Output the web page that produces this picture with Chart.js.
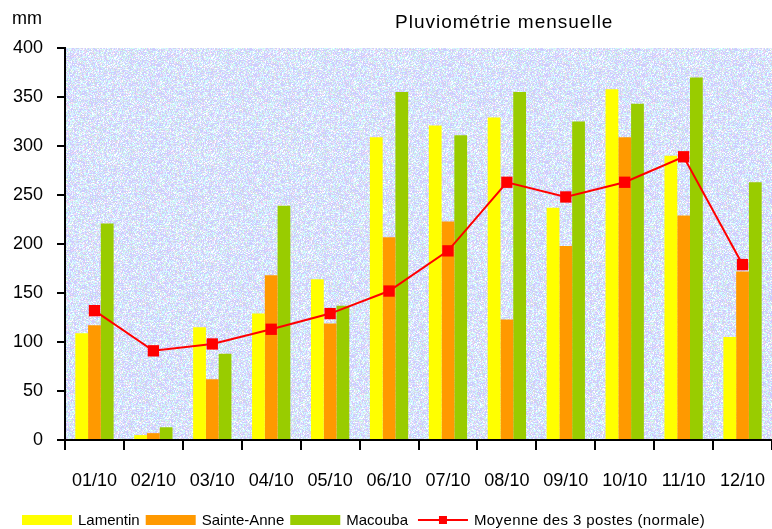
<!DOCTYPE html>
<html>
<head>
<meta charset="utf-8">
<script src="https://cdn.jsdelivr.net/npm/chart.js@4/dist/chart.umd.min.js"></script>
<style>
  html, body { margin: 0; padding: 0; background: #ffffff; }
  #wrap { width: 772px; height: 529px; position: relative; }
</style>
</head>
<body>
<div id="wrap"><canvas id="c" width="772" height="529"></canvas></div>
<script>
// ---- Data ----
const categories = ['01/10','02/10','03/10','04/10','05/10','06/10','07/10','08/10','09/10','10/10','11/10','12/10'];
const lamentin   = [109, 5, 115, 129, 164, 309, 321, 329, 237, 358, 290, 105];
const sainteAnne = [117, 7,  62, 168, 119, 207, 223, 123, 198, 309, 229, 172];
const macouba    = [221, 13, 88, 239, 137, 355, 311, 355, 325, 343, 370, 263];
const moyenne    = [132, 91, 98, 113, 129, 152, 193, 263, 248, 263, 289, 179];
const yTicks     = [0, 50, 100, 150, 200, 250, 300, 350, 400];
const seriesNames = ['Lamentin', 'Sainte-Anne', 'Macouba', 'Moyenne des 3 postes (normale)'];
const titleText = 'Pluviométrie mensuelle';
const unitText = 'mm';

const COLORS = { yellow: '#ffff00', orange: '#ff9900', green: '#99cc00', red: '#ff0000' };
const FONT = '"Liberation Sans", Arial, sans-serif';

// textured background tile (deterministic hash noise)
function makePattern(ctx) {
  const N = 97;
  const t = document.createElement('canvas');
  t.width = N; t.height = N;
  const tc = t.getContext('2d');
  const img = tc.createImageData(N, N);
  const pal = [
    [204,204,255],[204,204,255],[204,204,255],[204,204,255],[214,214,252],
    [204,255,255],[204,255,255],[220,240,255],[255,255,255],[240,248,255],
    [245,215,245],[215,215,225],[210,245,225],[225,225,255]
  ];
  for (let y = 0; y < N; y++) {
    for (let x = 0; x < N; x++) {
      let h = (x * 374761393 + y * 668265263) >>> 0;
      h = ((h ^ (h >>> 13)) * 1274126177) >>> 0;
      h = (h ^ (h >>> 16)) >>> 0;
      const c = pal[h % pal.length];
      const i = (y * N + x) * 4;
      img.data[i] = c[0]; img.data[i+1] = c[1]; img.data[i+2] = c[2]; img.data[i+3] = 255;
    }
  }
  tc.putImageData(img, 0, 0);
  return ctx.createPattern(t, 'repeat');
}

const decorPlugin = {
  id: 'decor',
  beforeDraw(chart) {
    const { ctx, chartArea: a } = chart;
    ctx.save();
    ctx.fillStyle = '#ffffff';
    ctx.fillRect(0, 0, chart.width, chart.height);
    ctx.fillStyle = makePattern(ctx);
    ctx.fillRect(a.left, a.top, a.right - a.left, a.bottom - a.top);
    ctx.restore();
  },
  afterDraw(chart) {
    const { ctx } = chart;
    ctx.save();
    ctx.fillStyle = '#000000';
    ctx.textBaseline = 'middle';
    // title
    ctx.font = '19px ' + FONT;
    ctx.letterSpacing = '1px';
    ctx.textAlign = 'left';
    ctx.fillText(titleText, 395, 23);
    // unit
    ctx.letterSpacing = '0px';
    ctx.font = '18px ' + FONT;
    ctx.fillText(unitText, 12, 19);
    // legend
    ctx.font = '15px ' + FONT;
    const ly = 520;
    let x = 22;
    const fills = [COLORS.yellow, COLORS.orange, COLORS.green];
    for (let i = 0; i < 4; i++) {
      if (i < 3) {
        ctx.fillStyle = fills[i];
        ctx.fillRect(x, ly - 5, 50, 10);
      } else {
        x += 4;
        ctx.strokeStyle = COLORS.red;
        ctx.lineWidth = 2;
        ctx.beginPath();
        ctx.moveTo(x, ly); ctx.lineTo(x + 50, ly); ctx.stroke();
        ctx.fillStyle = COLORS.red;
        ctx.fillRect(x + 21, ly - 4, 8, 8);
        ctx.letterSpacing = '0.4px';
      }
      x += 56;
      ctx.fillStyle = '#000000';
      ctx.fillText(seriesNames[i], x, ly + 1);
      x += ctx.measureText(seriesNames[i]).width + 6;
    }
    ctx.restore();
  }
};

const ctx = document.getElementById('c').getContext('2d');
new Chart(ctx, {
  data: {
    labels: categories,
    datasets: [
      { type: 'line', label: seriesNames[3], data: moyenne, order: 0,
        borderColor: COLORS.red, backgroundColor: COLORS.red, borderWidth: 2,
        pointStyle: 'rect', pointRadius: 8, pointHoverRadius: 8, pointBorderWidth: 0,
        tension: 0, fill: false, clip: false },
      { type: 'bar', label: seriesNames[0], data: lamentin, order: 1, backgroundColor: COLORS.yellow,
        categoryPercentage: 0.65, barPercentage: 1.0 },
      { type: 'bar', label: seriesNames[1], data: sainteAnne, order: 1, backgroundColor: COLORS.orange,
        categoryPercentage: 0.65, barPercentage: 1.0 },
      { type: 'bar', label: seriesNames[2], data: macouba, order: 1, backgroundColor: COLORS.green,
        categoryPercentage: 0.65, barPercentage: 1.0 }
    ]
  },
  options: {
    responsive: false,
    animation: false,
    events: [],
    layout: { autoPadding: false, padding: { top: 48, right: 0, bottom: 0, left: 0 } },
    plugins: { legend: { display: false }, title: { display: false }, tooltip: { enabled: false } },
    scales: {
      x: {
        type: 'category',
        offset: true,
        grid: { display: true, drawOnChartArea: false, offset: true, tickLength: 10, color: '#000000', lineWidth: 2 },
        border: { display: true, color: '#000000', width: 2 },
        ticks: { color: '#000000', font: { family: FONT, size: 18 }, padding: 20, maxRotation: 0, autoSkip: false },
        afterFit(scale) { scale.height = 89; scale.paddingLeft = 0; scale.paddingRight = 0; }
      },
      y: {
        min: 0, max: 400,
        afterBuildTicks(scale) { scale.ticks = yTicks.map(v => ({ value: v })); },
        grid: { display: true, drawOnChartArea: false, tickLength: 8, color: '#000000', lineWidth: 2 },
        border: { display: true, color: '#000000', width: 2 },
        ticks: { color: '#000000', font: { family: FONT, size: 18 }, padding: 14 },
        afterFit(scale) { scale.width = 65; scale.paddingTop = 0; scale.paddingBottom = 0; }
      }
    }
  },
  plugins: [decorPlugin]
});
</script>
</body>
</html>
